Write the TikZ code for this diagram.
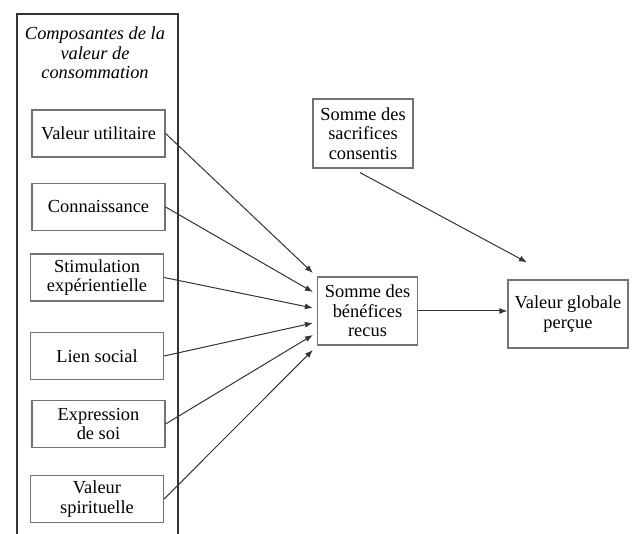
\documentclass[tikz,border=0pt]{standalone}
\usepackage{fontspec}
\setmainfont{Liberation Serif}
\usetikzlibrary{arrows.meta,calc}

\tikzset{
  compbox/.style={draw=black!55, line width=0.6pt, minimum width=66.5pt, minimum height=23.5pt, align=center, inner sep=1pt},
  sumbox/.style={draw=black!55, line width=0.6pt, minimum width=50pt, minimum height=34.5pt, align=center, inner sep=1pt},
  link/.style={draw=black!80, line width=0.5pt, -{Latex[length=4pt,width=3pt]}},
}

\begin{document}
\begin{tikzpicture}[x=0.5pt, y=-0.5pt, font=\fontsize{9.2}{9.8}\selectfont]
  \useasboundingbox (0,0) rectangle (634,534);

  % Composantes de la valeur
  \draw[line width=1.1pt, black!80] (17,534) -- (17,14) -- (178,14) -- (178,534);
  \node[align=center, font=\fontsize{9.2}{9.8}\selectfont\itshape] (titre) at (95,53) {Composantes de la\\valeur de\\consommation};

  \node[compbox] (util) at (98.5,133.5) {Valeur utilitaire};
  \node[compbox] (conn) at (98.5,207) {Connaissance};
  \node[compbox] (stim) at (97,277.5) {Stimulation\\exp\'erientielle};
  \node[compbox] (lien) at (97,356) {Lien social};
  \node[compbox] (expr) at (98.5,424) {Expression\\de soi};
  \node[compbox] (spir) at (97,499) {Valeur\\spirituelle};

  % Sommes
  \node[sumbox] (sacr) at (363,133.5) {Somme des\\sacrifices\\consentis};
  \node[sumbox, minimum height=34pt] (benef) at (367.5,311) {Somme des\\b\'en\'efices\\recus};

  % Valeur globale
  \node[sumbox, minimum width=60pt, minimum height=34pt] (valg) at (568,314) {Valeur globale\\per\c{c}ue};

  % Liens
  \foreach \n/\dy in {util/-38, conn/-19, stim/-3, lien/12, expr/24, spir/39}
    \draw[link] (\n.east) -- ($(benef.west)+(-4,\dy)$);

  \coordinate (sacr-out) at ($(sacr.south)+(-3,4)$);
  \coordinate (valg-in) at ($(valg.north)+(-41,-17)$);
  \draw[link] (sacr-out) -- (valg-in);
  \draw[link] (benef.east) -- (benef.east -| valg.west);
\end{tikzpicture}
\end{document}
